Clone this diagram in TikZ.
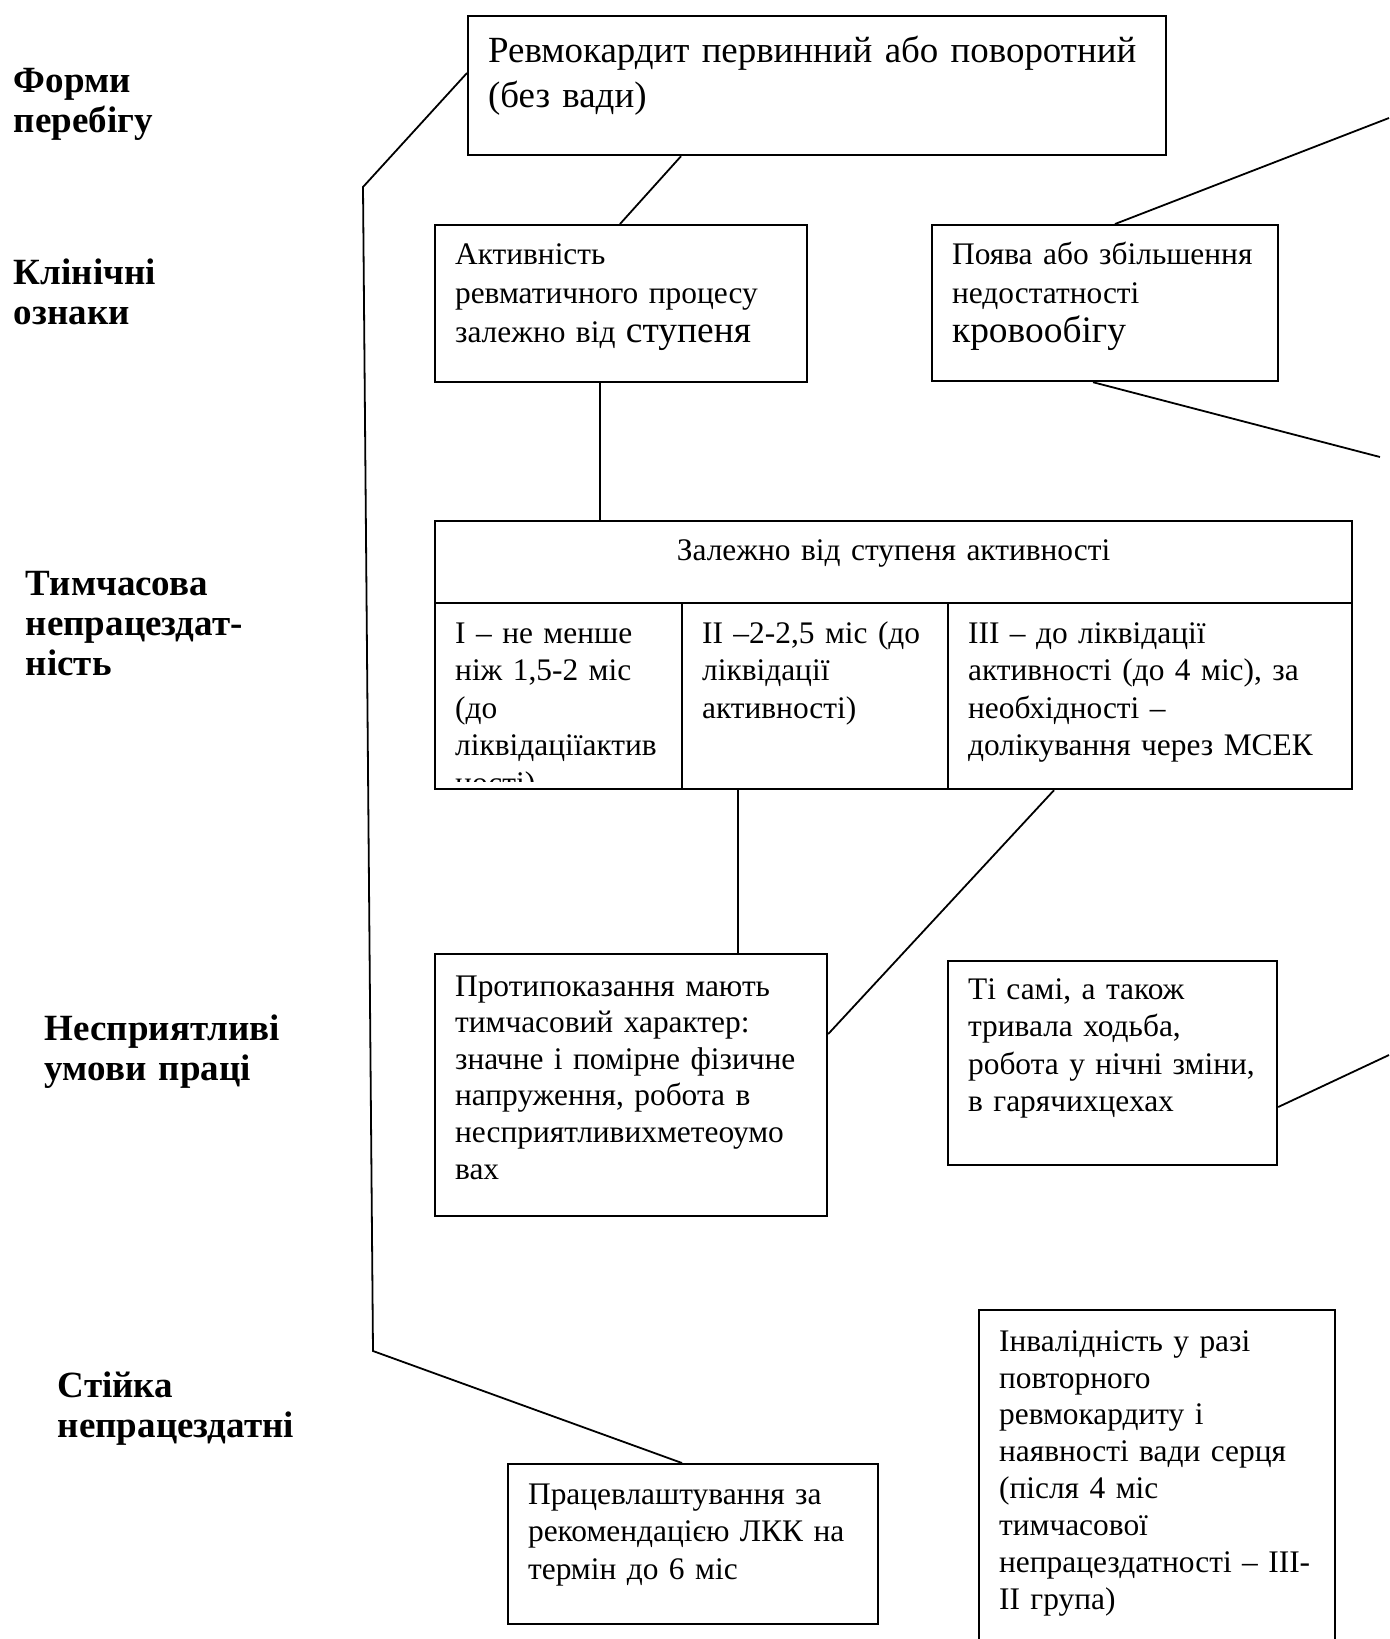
\documentclass[tikz,border=0pt]{standalone}
\usepackage{fontspec}
\setmainfont{Liberation Serif}
\begin{document}
\begin{tikzpicture}[line width=0.9pt,x=0.5pt,y=-0.5pt,
	card/.style={draw,line width=1.1pt,anchor=north west,align=left,inner ysep=0pt,inner xsep=10pt,font=\fontsize{15.7}{18.8}\selectfont},
	lab/.style={anchor=base west,inner sep=0pt,text width=170pt,align=left,font=\fontsize{18.5}{20}\selectfont\bfseries}]
	\useasboundingbox (0,0) rectangle (1389,1639);
	% row titles
	\node[lab] (forms) at (13,92) {Форми\\перебігу};
	\node[lab] (signs) at (13,284) {Клінічні\\ознаки};
	\node[lab] (temp) at (25,595) {Тимчасова\\непрацездат-\\ність};
	\node[lab] (cond) at (44,1040) {Несприятливі\\умови праці};
	\node[lab] (perm) at (57,1397) {Стійка\\непрацездатні};
	% boxes
	\node[card,text width=329pt,text height=23pt,text depth=46.5pt,font=\fontsize{18.45}{22.5}\selectfont] (top) at (467,15)
		{Ревмокардит первинний або поворотний\\(без вади)};
	\node[card,text width=166pt,text height=19.5pt,text depth=59pt,font=\fontsize{15.7}{19.5}\selectfont] (akt) at (434,224)
		{Активність\\ревматичного процесу\\залежно від {\fontsize{18.7}{19.5}\selectfont ступеня}};
	\node[card,text width=153pt,text height=19.5pt,text depth=58.5pt,font=\fontsize{15.7}{19.5}\selectfont] (heart) at (931,224)
		{Поява або збільшення\\недостатності\\{\fontsize{18.7}{19.5}\selectfont кровообігу}};
	% table
	\node[card,inner xsep=0pt,text width=458.5pt,align=center,text height=19.5pt,text depth=21.5pt] (head) at (434,520)
		{Залежно від ступеня активності};
	\node[card,text width=103.5pt,text height=20pt,text depth=73pt,path picture={
		\clip (path picture bounding box.north west) rectangle ([yshift=4pt]path picture bounding box.south east);
		\node[anchor=base west,inner sep=0pt,text width=115pt,align=left,font=\fontsize{15.7}{18.8}\selectfont] (c1txt)
			at ([xshift=9.5pt,yshift=-20pt]path picture bounding box.north west)
			{I – не менше\\ніж 1,5-2 міс\\(до\\ліквідаціїактив\\ності)};}] (c1) at (434,602) {};
	\node[card,text width=113pt,text height=20pt,text depth=73pt] (c2) at (681,602)
		{II –2-2,5 міс (до\\ліквідації\\активності)};
	\node[card,text width=182pt,text height=20pt,text depth=73pt] (c3) at (947,602)
		{III – до ліквідації\\активності (до 4 міс), за\\необхідності –\\долікування через МСЕК};
	\node[card,text width=176pt,text height=21pt,text depth=110pt,font=\fontsize{15.7}{18.3}\selectfont] (contra) at (434,953)
		{Протипоказання мають\\тимчасовий характер:\\значне і помірне фізичне\\напруження, робота в\\несприятливихметеоумо\\вах};
	\node[card,text width=144.5pt,text height=19pt,text depth=83pt] (same) at (947,960)
		{Ті самі, а також\\тривала ходьба,\\робота у нічні зміни,\\в гарячихцехах};
	\node[card,text width=158pt,text height=20.5pt,text depth=155pt,font=\fontsize{15.7}{18.45}\selectfont] (inv) at (978,1309)
		{Інвалідність у разі\\повторного\\ревмокардиту і\\наявності вади серця\\(після 4 міс\\тимчасової\\непрацездатності – III-\\II група)};
	\node[card,text width=165pt,text height=20pt,text depth=60pt] (job) at (507,1463)
		{Працевлаштування за\\рекомендацією ЛКК на\\термін до 6 міс};
	% free ends
	\path (363,187) coordinate (bendA)
	(373,1351) coordinate (bendB)
	(1389,118) coordinate (outA)
	(1380,457) coordinate (outB)
	(1389,1055) coordinate (outC);
	% connectors
	\draw ([yshift=-29pt]top.north west) -- (bendA) -- (bendB) -- ([xshift=87.5pt]job.north west);
	\draw ([xshift=107pt]top.south west) -- ([xshift=93pt]akt.north west);
	\draw ([xshift=83pt]akt.south west) -- ([xshift=83pt]head.north west);
	\draw ([xshift=92pt]heart.north west) -- (outA);
	\draw ([xshift=81pt]heart.south west) -- (outB);
	\draw ([xshift=28.5pt]c2.south west) -- ([xshift=152pt]contra.north west);
	\draw ([xshift=53.5pt]c3.south west) -- ([yshift=-40.5pt]contra.north east);
	\draw ([yshift=-73.5pt]same.north east) -- (outC);
\end{tikzpicture}
\end{document}
